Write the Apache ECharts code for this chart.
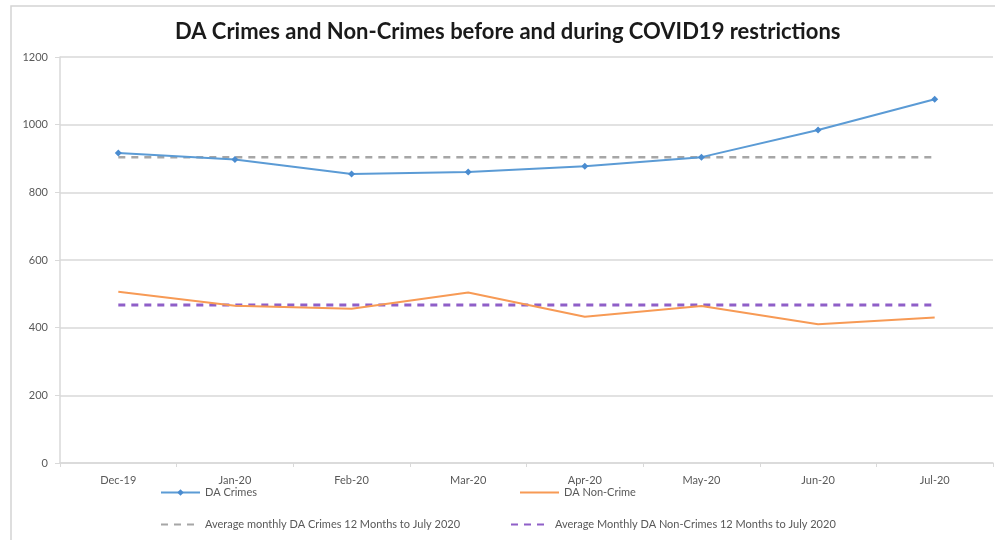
<!DOCTYPE html>
<html>
<head>
<meta charset="utf-8">
<script src="https://cdn.jsdelivr.net/npm/echarts@6/dist/echarts.min.js"></script>
<style>
html,body{margin:0;padding:0;background:#fff;}
#chart{width:995px;height:540px;}
</style>
</head>
<body>
<div id="chart"></div>
<script>
const categories = ['Dec-19','Jan-20','Feb-20','Mar-20','Apr-20','May-20','Jun-20','Jul-20'];
const daCrimes = [916, 897, 854, 860, 877, 904, 984, 1075];
const daNonCrime = [506, 465, 456, 504, 432, 464, 410, 430];
const avgCrimes = [904, 904, 904, 904, 904, 904, 904, 904];
const avgNonCrimes = [467, 467, 467, 467, 467, 467, 467, 467];
const yTicks = {min: 0, max: 1200, interval: 200};

const FONT = 'Lato';
const chart = echarts.init(document.getElementById('chart'));
const lbl = {color: '#595959', fontSize: 11, fontFamily: FONT};
const noSym = {opacity: 0};
chart.setOption({
  animation: false,
  title: {
    text: 'DA Crimes and Non-Crimes before and during COVID19 restrictions',
    left: 170, top: 16,
    textStyle: {fontFamily: FONT, fontWeight: 'bold', fontSize: 22, color: '#1a1a1a'}
  },
  graphic: [{
    type: 'rect', silent: true, z: -1,
    shape: {x: 11, y: 6, width: 1000, height: 560},
    style: {fill: null, stroke: '#d4d4d4', lineWidth: 1.5}
  }],
  grid: {left: 60, right: 2, top: 57, bottom: 77},
  xAxis: {
    type: 'category', data: categories, boundaryGap: true,
    axisLine: {lineStyle: {color: '#d9d9d9', width: 1.5}},
    axisTick: {show: true, length: 4, lineStyle: {color: '#d9d9d9'}},
    axisLabel: Object.assign({margin: 12}, lbl)
  },
  yAxis: {
    type: 'value', min: yTicks.min, max: yTicks.max, interval: yTicks.interval,
    axisLine: {show: true, lineStyle: {color: '#d9d9d9', width: 1.5}},
    axisTick: {show: true, length: 5, lineStyle: {color: '#d9d9d9'}},
    splitLine: {lineStyle: {color: '#d9d9d9', width: 1.5}},
    axisLabel: Object.assign({margin: 12, formatter: v => String(v)}, lbl)
  },
  legend: [
    {data: ['DA Crimes'], left: 155, top: 482, itemWidth: 39, itemHeight: 8, textStyle: lbl},
    {data: ['DA Non-Crime'], left: 514, top: 482, itemWidth: 39, itemHeight: 8, textStyle: lbl, itemStyle: noSym},
    {data: ['Average monthly DA Crimes 12 Months to July 2020'], left: 155, top: 514, itemWidth: 39, itemHeight: 8, textStyle: lbl, itemStyle: noSym},
    {data: ['Average Monthly DA Non-Crimes 12 Months to July 2020'], left: 505, top: 514, itemWidth: 39, itemHeight: 8, textStyle: lbl, itemStyle: noSym}
  ],
  series: [
    {
      name: 'Average monthly DA Crimes 12 Months to July 2020', type: 'line', data: avgCrimes,
      showSymbol: false, symbol: 'none', z: 1,
      lineStyle: {color: '#a6a6a6', width: 2.5, type: [7, 6]}, itemStyle: {color: '#a6a6a6'}
    },
    {
      name: 'Average Monthly DA Non-Crimes 12 Months to July 2020', type: 'line', data: avgNonCrimes,
      showSymbol: false, symbol: 'none', z: 1,
      lineStyle: {color: '#8f5fc8', width: 3, type: [7, 6]}, itemStyle: {color: '#8f5fc8'}
    },
    {
      name: 'DA Crimes', type: 'line', data: daCrimes, z: 3,
      symbol: 'diamond', symbolSize: 7,
      lineStyle: {color: '#5b9bd5', width: 2}, itemStyle: {color: '#4a8cd0'}
    },
    {
      name: 'DA Non-Crime', type: 'line', data: daNonCrime, z: 2,
      symbol: 'none', showSymbol: false,
      lineStyle: {color: '#f79a55', width: 2}, itemStyle: {color: '#f79a55'}
    }
  ]
});
</script>
</body>
</html>
